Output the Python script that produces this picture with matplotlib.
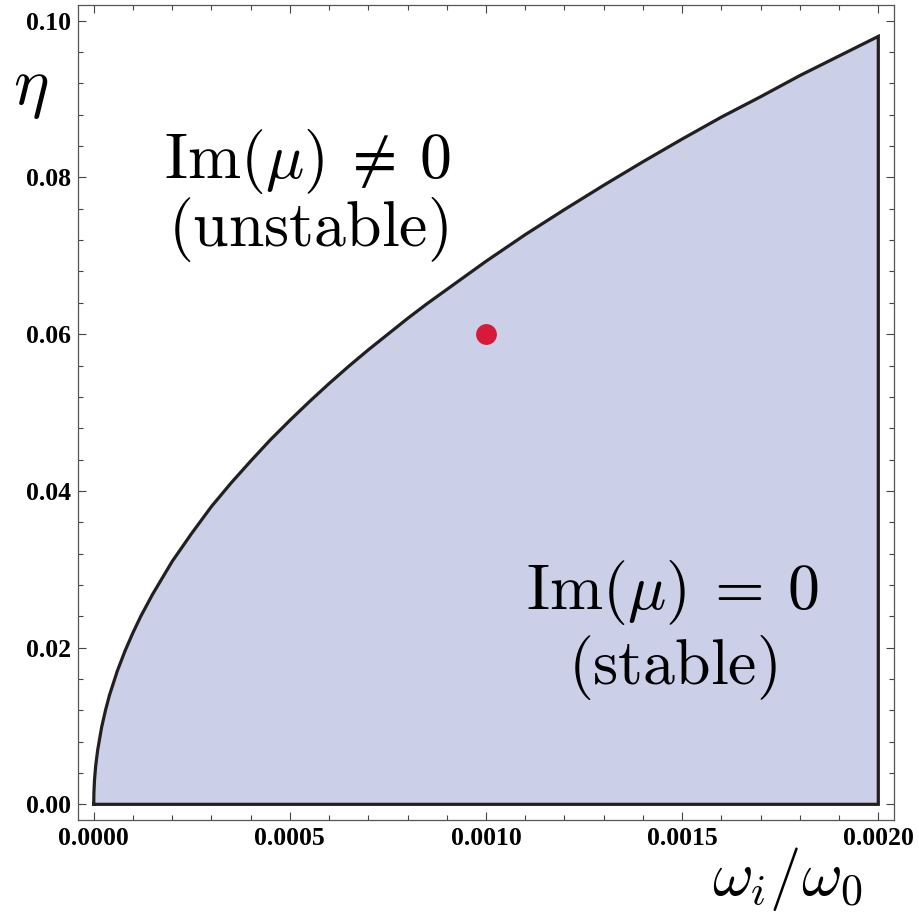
import numpy as np
import matplotlib.pyplot as plt
from matplotlib.ticker import MultipleLocator, FormatStrFormatter

plt.rcParams['mathtext.fontset'] = 'cm'

# boundary curve: omega_i/omega_0 vs eta
w_ratio = [0.0, 0.0000005, 0.000002, 0.000005, 0.00001, 0.00002, 0.00003,
           0.00004, 0.00006, 0.00008, 0.0001, 0.00012, 0.00015, 0.0002,
           0.00025, 0.0003, 0.00035, 0.0004, 0.00045, 0.0005, 0.00055,
           0.0006, 0.00065, 0.0007, 0.00075, 0.0008, 0.00085, 0.0009,
           0.00095, 0.001, 0.0011, 0.0012, 0.0013, 0.0014, 0.0015, 0.0016,
           0.0017, 0.0018, 0.0019, 0.002]
eta_edge = [0.0, 0.0015, 0.0031, 0.0049, 0.0069, 0.0098, 0.0120,
            0.0139, 0.0170, 0.0196, 0.0219, 0.0240, 0.0268, 0.0310,
            0.0346, 0.0380, 0.0410, 0.0438, 0.0465, 0.0490, 0.0514,
            0.0537, 0.0559, 0.0580, 0.0600, 0.0620, 0.0639, 0.0657,
            0.0675, 0.0693, 0.0727, 0.0759, 0.0790, 0.0820, 0.0849, 0.0877,
            0.0903, 0.0930, 0.0955, 0.0980]
point_w = [0.001]
point_eta = [0.06]

fig = plt.figure(figsize=(9.19, 9.16), dpi=100)
ax = fig.add_axes([0.0849, 0.1048, 0.8879, 0.8897])

x = np.array(w_ratio)
y = np.array(eta_edge)
ax.fill_between(x, 0, y, color='#cbcfe8', lw=0)
# closed outline: curve, right side, bottom
ox = np.concatenate([x, [x[-1], x[0], x[0]]])
oy = np.concatenate([y, [0.0, 0.0, y[0]]])
ax.plot(ox, oy, color='#231f20', lw=2.3, solid_joinstyle='miter')
ax.plot(point_w, point_eta, 'o', color='#d7193a', ms=15, mec='none')

ax.set_xlim(-0.00004, 0.00204)
ax.set_ylim(-0.002, 0.102)

ax.xaxis.set_major_locator(MultipleLocator(0.0005))
ax.xaxis.set_minor_locator(MultipleLocator(0.0001))
ax.yaxis.set_major_locator(MultipleLocator(0.02))
ax.yaxis.set_minor_locator(MultipleLocator(0.004))
ax.xaxis.set_major_formatter(FormatStrFormatter('%.4f'))
ax.yaxis.set_major_formatter(FormatStrFormatter('%.2f'))
ax.tick_params(which='both', direction='in', top=True, right=True,
               color='#444444', width=0.8)
ax.tick_params(which='major', length=6, pad=5)
ax.tick_params(which='minor', length=3.5)
for lab in ax.get_xticklabels() + ax.get_yticklabels():
    lab.set_fontfamily('Liberation Serif')
    lab.set_fontweight('bold')
    lab.set_fontsize(18.5)
for s in ax.spines.values():
    s.set_color('#555555')
    s.set_linewidth(0.9)

ax.text(0.0005450, 0.0820, r'$\mathrm{Im}(\mu)\:\neq\:0$', fontsize=46,
        ha='center', va='center')
ax.text(0.0005450, 0.0733, r'$(\mathrm{unstable})$', fontsize=46,
        ha='center', va='center')
ax.text(0.0014750, 0.0270, r'$\mathrm{Im}(\mu)\:=\:0$', fontsize=46,
        ha='center', va='center')
ax.text(0.0014750, 0.0175, r'$(\mathrm{stable})$', fontsize=46,
        ha='center', va='center')

fig.text(0.033, 0.904, r'$\eta$', fontsize=48, ha='center', va='center')
fig.text(0.857, 0.040, r'$\omega_i/\omega_0$', fontsize=45,
         ha='center', va='center')

fig.savefig('out.png', dpi=100)
